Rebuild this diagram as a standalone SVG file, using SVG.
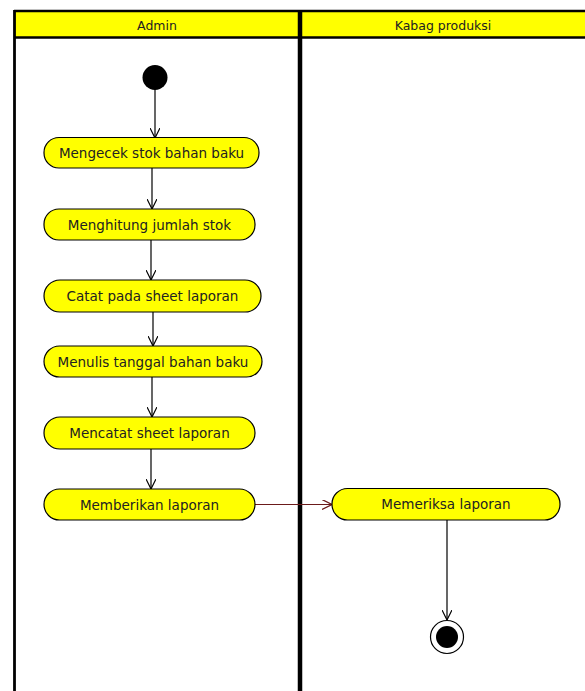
<svg xmlns="http://www.w3.org/2000/svg" width="585" height="691" viewBox="0 0 585 691">
<defs>
<style>
.lane{fill:none;stroke:#000;}
.hdr{fill:#ffff00;}
.act{fill:#ffff00;stroke:#000;stroke-width:1.2;}
.lbl{font-family:"DejaVu Sans",Tahoma,sans-serif;font-size:13.5px;fill:#222;text-anchor:middle;dominant-baseline:central;}
.hl{font-family:"DejaVu Sans",Tahoma,sans-serif;font-size:12.5px;fill:#222;text-anchor:middle;dominant-baseline:central;}
.flow{fill:none;stroke:#000;stroke-width:1.2;}
.flow2{fill:none;stroke:#6b1a1a;stroke-width:1.2;}
</style>
<marker id="arr" viewBox="0 0 10 10" refX="10" refY="5" markerWidth="10" markerHeight="10" markerUnits="userSpaceOnUse" orient="auto">
<path d="M0,0 L10,5 L0,10" fill="none" stroke="#000" stroke-width="1.2"/>
</marker>
<marker id="arr2" viewBox="0 0 10 10" refX="10" refY="5" markerWidth="10" markerHeight="10" markerUnits="userSpaceOnUse" orient="auto">
<path d="M0,0 L10,5 L0,10" fill="none" stroke="#6b1a1a" stroke-width="1.2"/>
</marker>
</defs>
<rect width="585" height="691" fill="#fff"/>
<g id="swimlanes">
<rect class="hdr" x="14" y="11" width="571" height="26.5"/>
<line class="lane" x1="14" y1="11" x2="585" y2="11" stroke-width="2.5"/>
<line class="lane" x1="14" y1="37.5" x2="585" y2="37.5" stroke-width="2.5"/>
<line class="lane" x1="14.5" y1="10" x2="14.5" y2="691" stroke-width="2.8"/>
<line class="lane" x1="300" y1="10" x2="300" y2="691" stroke-width="4.5"/>
<text class="hl" x="157" y="25">Admin</text>
<text class="hl" x="443" y="25">Kabag produksi</text>
</g>
<g id="connectors">
<line class="flow" x1="155" y1="89" x2="155" y2="138" marker-end="url(#arr)"/>
<line class="flow" x1="152" y1="168" x2="152" y2="209" marker-end="url(#arr)"/>
<line class="flow" x1="151" y1="240" x2="151" y2="280" marker-end="url(#arr)"/>
<line class="flow" x1="153" y1="312" x2="153" y2="346" marker-end="url(#arr)"/>
<line class="flow" x1="152" y1="377" x2="152" y2="417" marker-end="url(#arr)"/>
<line class="flow" x1="151" y1="449" x2="151" y2="489" marker-end="url(#arr)"/>
<line class="flow2" x1="255" y1="504.5" x2="332" y2="504.5" marker-end="url(#arr2)"/>
<line class="flow" x1="447" y1="520" x2="447" y2="620" marker-end="url(#arr)"/>
</g>
<g id="start">
<circle cx="155" cy="77.5" r="12.5" fill="#000"/>
</g>
<g id="n1">
<rect class="act" x="44" y="137.5" width="215" height="30.5" rx="15"/>
<text class="lbl" x="151.5" y="153">Mengecek stok bahan baku</text>
</g>
<g id="n2">
<rect class="act" x="44" y="209" width="211" height="31" rx="15"/>
<text class="lbl" x="149.5" y="224.5">Menghitung jumlah stok</text>
</g>
<g id="n3">
<rect class="act" x="44" y="280" width="217" height="32" rx="16"/>
<text class="lbl" x="152.5" y="296">Catat pada sheet laporan</text>
</g>
<g id="n4">
<rect class="act" x="44" y="346" width="218" height="31" rx="15.5"/>
<text class="lbl" x="153" y="361.5">Menulis tanggal bahan baku</text>
</g>
<g id="n5">
<rect class="act" x="44" y="417" width="211" height="32" rx="16"/>
<text class="lbl" x="149.5" y="433">Mencatat sheet laporan</text>
</g>
<g id="n6">
<rect class="act" x="44" y="489" width="211" height="31" rx="15.5"/>
<text class="lbl" x="149.5" y="504.5">Memberikan laporan</text>
</g>
<g id="n7">
<rect class="act" x="332" y="488.5" width="228" height="31.5" rx="15.5"/>
<text class="lbl" x="446" y="504">Memeriksa laporan</text>
</g>
<g id="end">
<circle cx="447" cy="637" r="16.5" fill="#fff" stroke="#000" stroke-width="1.2"/>
<circle cx="447" cy="637" r="11" fill="#000"/>
</g>
</svg>
